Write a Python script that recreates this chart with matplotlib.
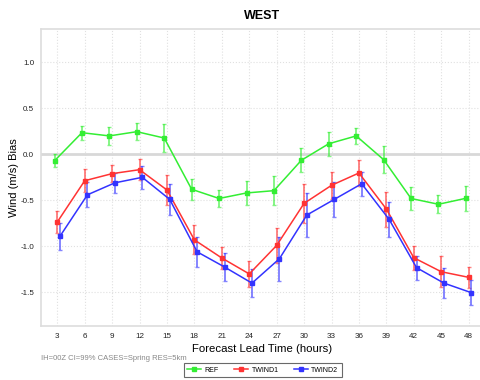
import matplotlib
matplotlib.use("Agg")
import matplotlib.pyplot as plt
from matplotlib.legend_handler import HandlerLine2D
import numpy as np

plt.rcParams['font.family'] = ['Liberation Sans', 'DejaVu Sans']

# forecast lead times (hours)
hours = [3, 6, 9, 12, 15, 18, 21, 24, 27, 30, 33, 36, 39, 42, 45, 48]

ref_bias = [-0.07, 0.235, 0.20, 0.246, 0.177, -0.38, -0.48, -0.42,
            -0.395, -0.065, 0.115, 0.20, -0.058, -0.48, -0.543, -0.478]
ref_err = [0.07, 0.074, 0.10, 0.094, 0.15, 0.116, 0.096, 0.127,
           0.154, 0.13, 0.13, 0.09, 0.15, 0.12, 0.098, 0.134]

twind1_bias = [-0.736, -0.287, -0.21, -0.167, -0.388, -0.93, -1.127, -1.30,
               -0.99, -0.533, -0.337, -0.203, -0.595, -1.124, -1.276, -1.337]
twind1_err = [0.12, 0.125, 0.096, 0.114, 0.168, 0.158, 0.118, 0.14,
              0.194, 0.21, 0.15, 0.137, 0.19, 0.132, 0.17, 0.116]

twind2_bias = [-0.89, -0.44, -0.31, -0.25, -0.49, -1.06, -1.225, -1.40,
               -1.135, -0.66, -0.49, -0.32, -0.707, -1.232, -1.40, -1.504]
twind2_err = [0.145, 0.136, 0.11, 0.127, 0.17, 0.163, 0.154, 0.156,
              0.24, 0.235, 0.19, 0.128, 0.187, 0.132, 0.165, 0.138]

series = [
    ("REF", ref_bias, ref_err, "#33ee33", -0.3),
    ("TWIND1", twind1_bias, twind1_err, "#ff3333", 0.0),
    ("TWIND2", twind2_bias, twind2_err, "#3333ff", 0.3),
]


# legend line with the marker sitting on its right end
class EndMarker(HandlerLine2D):
    def get_xdata(self, legend, xdescent, ydescent, width, height, fontsize):
        xdata = np.array([-xdescent, -xdescent + width])
        return xdata, np.array([-xdescent + width])


fig = plt.figure(figsize=(4.8, 3.8), dpi=100)
ax = fig.add_axes([41 / 480, 54 / 380, 443 / 480, 297 / 380])

ax.axhline(0, color="#d8d8d8", lw=2, zorder=1)

x = np.array(hours, dtype=float)
handles = []
for name, vals, err, col, off in series:
    ln, = ax.plot(x + off, vals, color=col, lw=1.1, marker="s", ms=2.5,
                  label=name, zorder=3)
    handles.append(ln)
    ax.errorbar(x + off, vals, yerr=err, fmt="none", ecolor=col,
                elinewidth=1.4, capsize=1.5, capthick=1, alpha=0.6, zorder=2)

ax.set_xlim(1.22, 49.68)
ax.set_ylim(-1.866, 1.362)
ax.set_xticks(hours)
ax.set_yticks([-1.5, -1.0, -0.5, 0.0, 0.5, 1.0])
ax.set_yticklabels(["-1.5", "-1.0", "-0.5", "0.0", "0.5", "1.0"])
ax.tick_params(length=0, labelsize=5.8, colors="#222222", pad=5)
ax.grid(True, ls=":", color="#e0e0e0", lw=0.8)
ax.set_axisbelow(True)
for s in ax.spines.values():
    s.set_color("#dddddd")
    s.set_linewidth(1.2)

ax.set_title("WEST", fontsize=9, fontweight="bold", pad=7)
ax.set_xlabel("Forecast Lead Time (hours)", fontsize=8.2, labelpad=3)
ax.set_ylabel("Wind (m/s) Bias", fontsize=8, labelpad=1)

fig.text(41 / 480, 1 - 359 / 380, "IH=00Z CI=99% CASES=Spring RES=5km",
         fontsize=5.5, color="#888888", va="center")

leg = fig.legend(handles=handles, loc="center",
                 bbox_to_anchor=(263 / 480, 1 - 370 / 380), ncol=3,
                 fontsize=5, frameon=True, fancybox=False, handlelength=2,
                 handletextpad=0.5, columnspacing=2.2, borderpad=0.5,
                 handler_map={matplotlib.lines.Line2D: EndMarker()})
leg.get_frame().set_edgecolor("#444444")
leg.get_frame().set_linewidth(0.8)

fig.savefig("out.png", dpi=100)
